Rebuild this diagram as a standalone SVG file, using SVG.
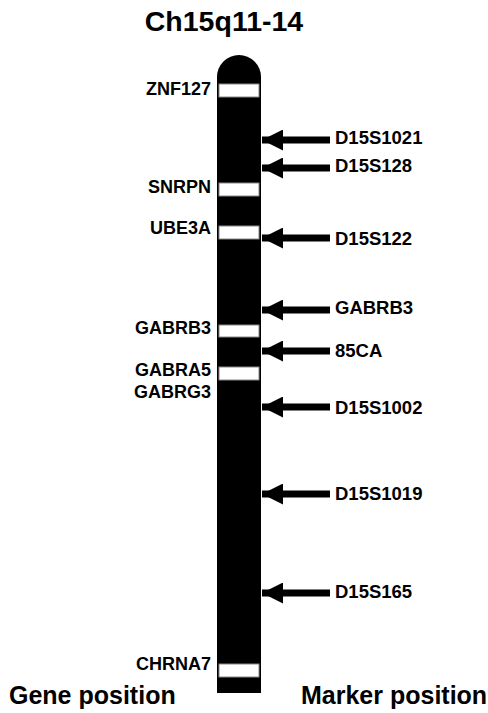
<svg xmlns="http://www.w3.org/2000/svg" width="488" height="713" viewBox="0 0 488 713">
  <defs>
    <style>
      text { font-family: "Liberation Sans", Arial, sans-serif; font-weight: bold; fill: #000; }
      .title { font-size: 28.5px; }
      .gene { font-size: 18px; text-anchor: end; }
      .marker { font-size: 18.5px; }
      .axis { font-size: 25px; }
      .band { fill: #fff; stroke: #888; stroke-width: 1; }
      .shaft { stroke: #000; stroke-width: 7; }
    </style>
    <marker id="head" viewBox="0 0 10 10" refX="10" refY="5" markerWidth="21" markerHeight="21" markerUnits="userSpaceOnUse" orient="auto">
      <path d="M0,0 L10,5 L0,10 Z" fill="#000"/>
    </marker>
  </defs>

  <rect width="488" height="713" fill="#fff"/>

  <text class="title" x="224" y="31" text-anchor="middle">Ch15q11-14</text>

  <!-- chromosome body -->
  <g id="chromosome">
    <path d="M217,77 A22,22 0 0 1 261,77 L261,693 L217,693 Z" fill="#000"/>
  </g>

  <!-- gene bands with labels -->
  <g id="ZNF127">
    <rect class="band" x="219" y="84" width="40" height="13"/>
    <text class="gene" x="211" y="95">ZNF127</text>
  </g>
  <g id="SNRPN">
    <rect class="band" x="219" y="183" width="40" height="13"/>
    <text class="gene" x="211" y="193">SNRPN</text>
  </g>
  <g id="UBE3A">
    <rect class="band" x="219" y="226" width="40" height="13"/>
    <text class="gene" x="211" y="234">UBE3A</text>
  </g>
  <g id="GABRB3-gene">
    <rect class="band" x="219" y="325" width="40" height="12"/>
    <text class="gene" x="211" y="334">GABRB3</text>
  </g>
  <g id="GABRA5">
    <rect class="band" x="219" y="367" width="40" height="13"/>
    <text class="gene" x="211" y="376">GABRA5</text>
  </g>
  <g id="GABRG3">
    <text class="gene" x="211" y="398">GABRG3</text>
  </g>
  <g id="CHRNA7">
    <rect class="band" x="219" y="664" width="40" height="13"/>
    <text class="gene" x="211" y="670">CHRNA7</text>
  </g>

  <!-- marker arrows -->
  <g id="connectors">
    <line class="shaft" x1="330" y1="140" x2="262" y2="140" marker-end="url(#head)"/>
    <line class="shaft" x1="330" y1="168" x2="262" y2="168" marker-end="url(#head)"/>
    <line class="shaft" x1="330" y1="238" x2="262" y2="238" marker-end="url(#head)"/>
    <line class="shaft" x1="330" y1="310" x2="262" y2="310" marker-end="url(#head)"/>
    <line class="shaft" x1="330" y1="351" x2="262" y2="351" marker-end="url(#head)"/>
    <line class="shaft" x1="330" y1="407" x2="262" y2="407" marker-end="url(#head)"/>
    <line class="shaft" x1="330" y1="494" x2="262" y2="494" marker-end="url(#head)"/>
    <line class="shaft" x1="330" y1="593" x2="262" y2="593" marker-end="url(#head)"/>
  </g>

  <!-- marker labels -->
  <g id="D15S1021"><text class="marker" x="335" y="144">D15S1021</text></g>
  <g id="D15S128"><text class="marker" x="335" y="172">D15S128</text></g>
  <g id="D15S122"><text class="marker" x="335" y="245">D15S122</text></g>
  <g id="GABRB3-marker"><text class="marker" x="335" y="314">GABRB3</text></g>
  <g id="85CA"><text class="marker" x="335" y="357">85CA</text></g>
  <g id="D15S1002"><text class="marker" x="335" y="414">D15S1002</text></g>
  <g id="D15S1019"><text class="marker" x="335" y="500">D15S1019</text></g>
  <g id="D15S165"><text class="marker" x="335" y="598">D15S165</text></g>

  <text class="axis" x="9" y="704">Gene position</text>
  <text class="axis" x="301" y="704">Marker position</text>
</svg>
